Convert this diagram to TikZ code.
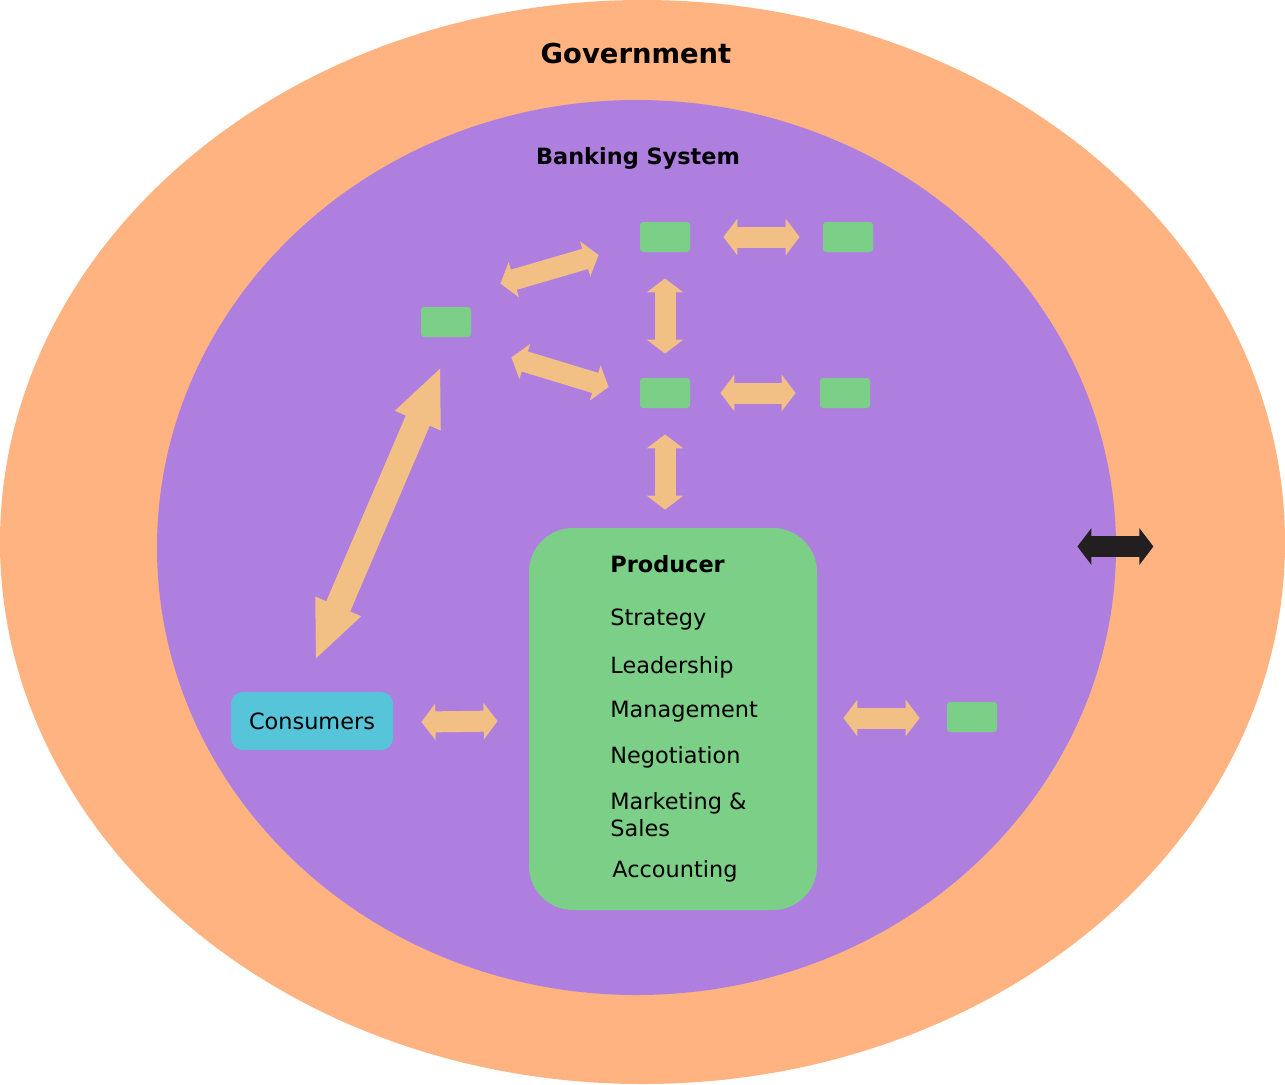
\documentclass[tikz,border=0pt]{standalone}
\usepackage{fontspec}
\setmainfont{DejaVu Sans}
\usetikzlibrary{shapes.geometric, arrows.meta, calc}

\definecolor{govorange}{HTML}{FFB380}
\definecolor{bankpurple}{HTML}{AF7FE0}
\definecolor{boxgreen}{HTML}{7BCF86}
\definecolor{consblue}{HTML}{56C5D9}
\definecolor{arrowtan}{HTML}{F2C085}
\definecolor{darkarrow}{HTML}{231F20}

\begin{document}
\begin{tikzpicture}[
    x=0.5pt, y=-0.5pt,
    govring/.style = {
        ellipse, inner sep=0pt
    },
    minibox/.style = {
        rectangle, rounded corners=1.5pt, fill=boxgreen,
        minimum width=25pt, minimum height=15pt, inner sep=0pt
    },
    listitem/.style = {
        anchor=west, inner sep=0pt, align=left,
        font=\fontsize{11.2}{13.5}\selectfont
    },
    dlink/.style = {
        color=arrowtan, line width=10.5pt,
        {Triangle[width=18pt,length=7pt]}-{Triangle[width=18pt,length=7pt]}
    },
    biglink/.style = {
        color=arrowtan, line width=13pt,
        {Triangle[width=22.5pt,length=29.5pt]}-{Triangle[width=22.5pt,length=29.5pt]}
    }
]
\useasboundingbox (0,0) rectangle (1285,1084);

%% ---- RINGS ----
\node[govring, fill=govorange, minimum width=642.5pt, minimum height=542pt] (gov)  at (642.5,542) {};
\node[govring, fill=bankpurple, minimum width=479.5pt, minimum height=447.5pt] (bank) at (636.5,547.5) {};

\node[font=\fontsize{13.7}{16}\selectfont\bfseries] (govlbl)  at (636,54)  {Government};
\node[font=\fontsize{11.2}{13.5}\selectfont\bfseries] (banklbl) at (638,158) {Banking System};

%% ---- SMALL BOXES ----
\node[minibox] (ta) at (665,237) {};
\node[minibox] (tb) at (848,237) {};
\node[minibox] (lb) at (446,322) {};
\node[minibox] (mb) at (665,393) {};
\node[minibox] (mr) at (845,393) {};
\node[minibox] (rb) at (972,717) {};

%% ---- PRODUCER / CONSUMERS ----
\node[fill=boxgreen, rounded corners=22pt, minimum width=144pt, minimum height=191pt, inner sep=0pt]
    (prod) at (673,719) {};
\node[fill=consblue, rounded corners=6pt, minimum width=81pt, minimum height=29pt, inner sep=0pt,
      font=\fontsize{11.2}{13.5}\selectfont] (cons) at (312,721) {Consumers};

\node[listitem, font=\fontsize{11.2}{13.5}\selectfont\bfseries] (plbl) at (610,564) {Producer};
\node[listitem] (strat) at (610,619) {Strategy};
\node[listitem] (lead)  at (610,667) {Leadership};
\node[listitem] (mgmt)  at (610,712) {Management};
\node[listitem] (nego)  at (610,757) {Negotiation};
\node[listitem] (mkt)   at (610,815) {Marketing \&\\Sales};
\node[listitem] (acct)  at (612,871) {Accounting};

%% ---- ARROWS ----
\draw[dlink] ([shift={(29,-23)}]lb.north east) -- ([shift={(-41,18)}]ta.west);
\draw[dlink] ([shift={(40,20)}]lb.south east)  -- ([shift={(-31,-6)}]mb.west);
\draw[dlink] ([shift={(33,0)}]ta.east)  -- ([shift={(-23,0)}]tb.west);
\draw[dlink] ([shift={(0,26)}]ta.south) -- ([shift={(0,-24)}]mb.north);
\draw[dlink] ([shift={(30,0)}]mb.east)  -- ([shift={(-24,0)}]mr.west);
\draw[dlink] ([shift={(0,26)}]mb.south) -- ($(mb.south |- prod.north)+(0,-18)$);
\draw[biglink] ([shift={(-5,29)}]lb.south) -- ([shift={(3,-31)}]cons.north);
\draw[dlink] ([shift={(28,1)}]cons.east)  -- ([shift={(-31,2)}]prod.west);
\draw[dlink] ([shift={(26,-1)}]prod.east) -- ([shift={(-27,1)}]rb.west);

\draw[dlink, color=darkarrow] ([shift={(-39,-1)}]bank.east) -- ([shift={(37,-1)}]bank.east);

\end{tikzpicture}
\end{document}
